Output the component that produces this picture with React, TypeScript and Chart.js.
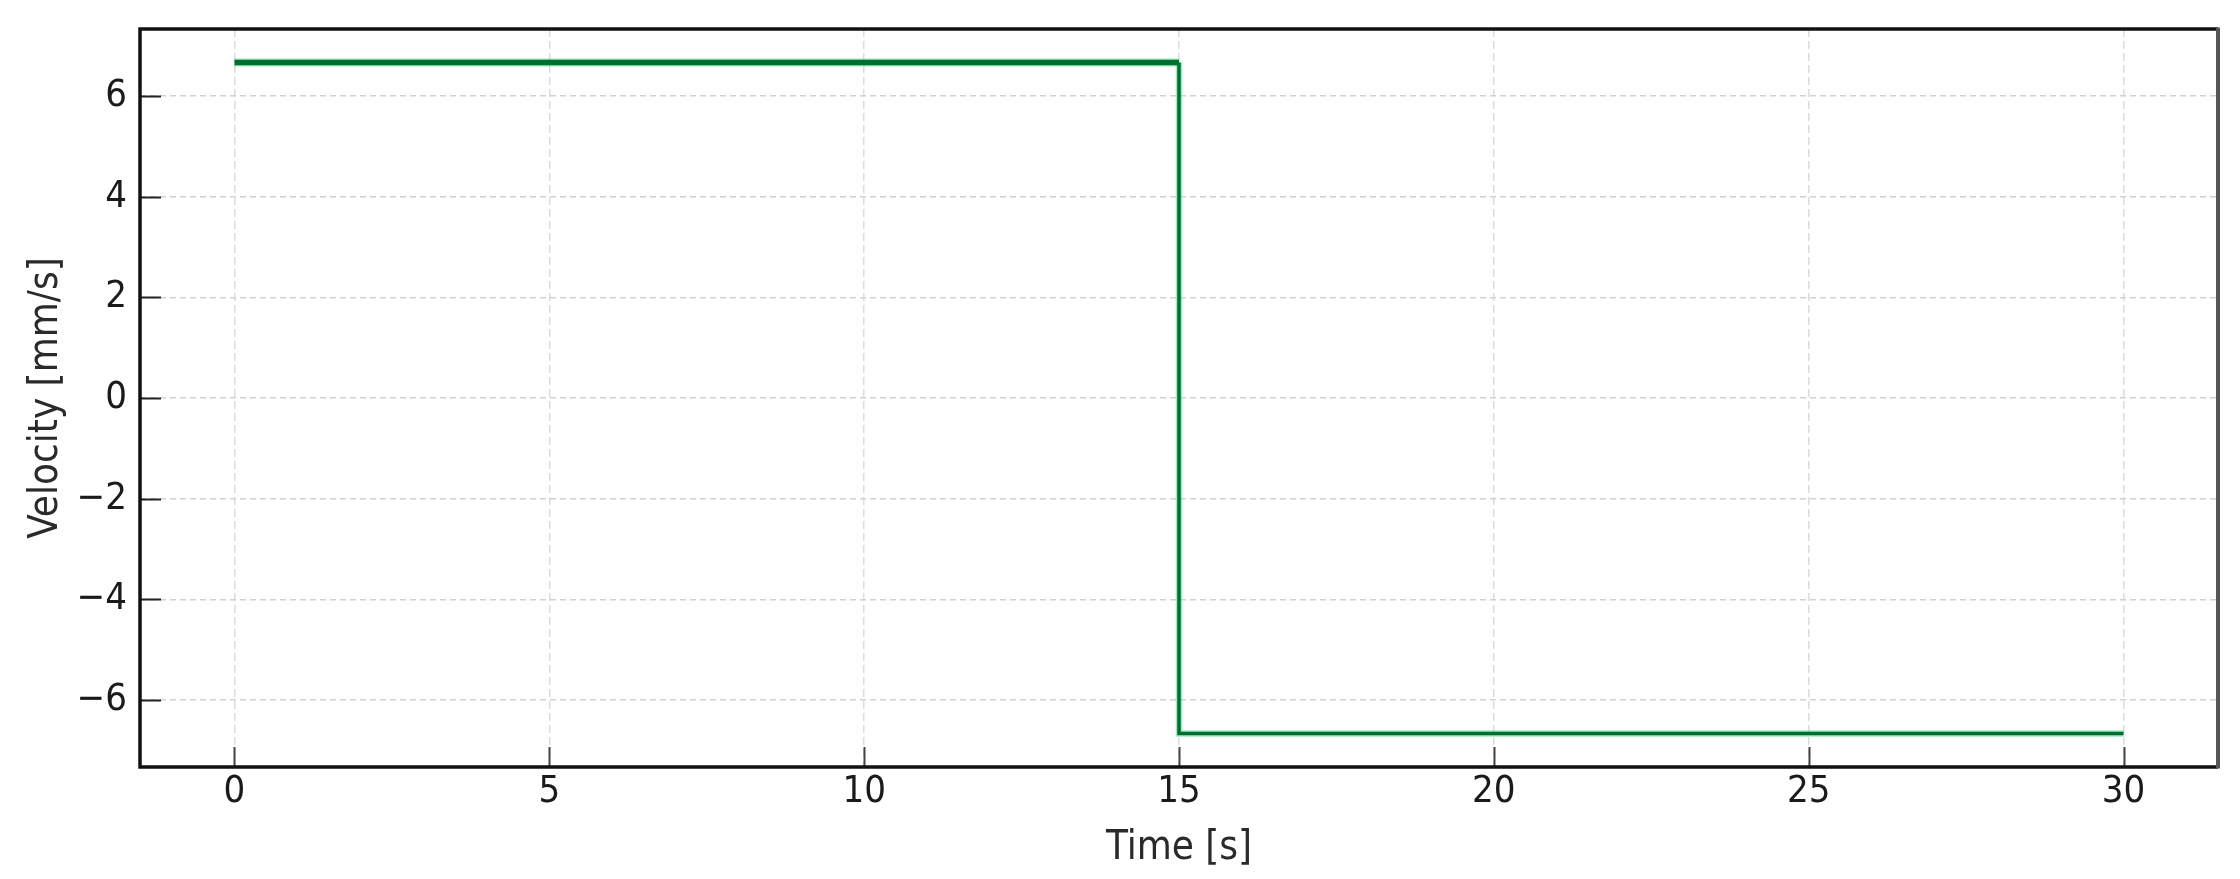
import React, { useEffect, useRef } from "react";
import { Chart, registerables } from "chart.js";

Chart.register(...registerables);

const timeValues = [0, 15, 15, 30];
const velocityValues = [6.667, 6.667, -6.667, -6.667];
const xTickValues = [0, 5, 10, 15, 20, 25, 30];
const yTickValues = [-6, -4, -2, 0, 2, 4, 6];
const xLimits = [-1.5, 31.5];
const yLimits = [-7.333, 7.333];
const xTitle = "Time [s]";
const yTitle = "Velocity [mm/s]";

const FAMILY = '"DejaVu Sans Condensed", "DejaVu Sans", sans-serif';

const fmt = (v: number) => (v < 0 ? "\u2212" + Math.abs(v) : String(v));

const framePlugin = {
  id: "frame",
  afterDatasetsDraw(chart: any) {
    const { ctx, chartArea: a, scales } = chart;
    const xs = scales.x;
    const ys = scales.y;
    ctx.save();
    ctx.lineCap = "butt";
    ctx.strokeStyle = "#222";
    ctx.lineWidth = 2;
    for (const v of yTickValues) {
      const y = Math.round(ys.getPixelForValue(v)) + 0.5;
      ctx.beginPath();
      ctx.moveTo(a.left, y);
      ctx.lineTo(a.left + 21, y);
      ctx.stroke();
    }
    ctx.strokeStyle = "#444";
    for (const v of xTickValues) {
      const x = Math.round(xs.getPixelForValue(v)) + 0.5;
      ctx.beginPath();
      ctx.moveTo(x, a.bottom);
      ctx.lineTo(x, a.bottom - 20);
      ctx.stroke();
    }
    ctx.lineWidth = 3.5;
    ctx.strokeStyle = "#111";
    ctx.beginPath();
    ctx.moveTo(a.right, a.top);
    ctx.lineTo(a.left, a.top);
    ctx.lineTo(a.left, a.bottom);
    ctx.lineTo(a.right, a.bottom);
    ctx.stroke();
    ctx.strokeStyle = "#555";
    ctx.lineWidth = 4;
    ctx.beginPath();
    ctx.moveTo(a.right, a.top - 1.5);
    ctx.lineTo(a.right, a.bottom + 1.5);
    ctx.stroke();
    ctx.restore();
  },
};

export default function App() {
  const ref = useRef<HTMLCanvasElement | null>(null);
  useEffect(() => {
    if (!ref.current) return;
    const points = timeValues.map((t, i) => ({ x: t, y: velocityValues[i] }));
    const chart = new Chart(ref.current, {
      type: "line",
      data: {
        datasets: [
          {
            data: points,
            borderColor: "#006e30",
            borderWidth: 3.5,
            pointRadius: 0,
            tension: 0,
            fill: false,
            segment: {
              borderWidth: (c: any) => (c.p0DataIndex === 0 ? 5.5 : 3.5),
            },
            order: 0,
          },
          {
            data: points,
            borderColor: "rgba(60, 220, 130, 0.5)",
            borderWidth: 6.5,
            pointRadius: 0,
            tension: 0,
            fill: false,
            segment: {
              borderWidth: (c: any) => (c.p0DataIndex === 0 ? 8 : 6.5),
            },
            order: 1,
          },
        ],
      },
      options: {
        animation: false,
        responsive: true,
        maintainAspectRatio: false,
        layout: { padding: { top: 29, right: 22, left: 0, bottom: 0 } },
        plugins: {
          legend: { display: false },
          tooltip: { enabled: false },
        },
        scales: {
          x: {
            type: "linear",
            min: xLimits[0],
            max: xLimits[1],
            afterBuildTicks: (s: any) => {
              s.ticks = xTickValues.map((v) => ({ value: v }));
            },
            afterFit: (s: any) => {
              s.height = 112;
              s.paddingLeft = 0;
              s.paddingRight = 0;
            },
            grid: {
              drawTicks: false,
              color: "#dcdcdc",
              lineWidth: 1.5,
            },
            border: { display: false, dash: [8, 4] },
            ticks: {
              padding: 2,
              color: "#1a1a1a",
              font: { family: FAMILY, size: 38 },
              callback: (v: any) => fmt(Number(v)),
              maxRotation: 0,
            },
            title: {
              display: true,
              text: xTitle,
              color: "#2a2a2a",
              font: { family: FAMILY, size: 40 },
              padding: { top: 0, bottom: 6 },
            },
          },
          y: {
            type: "linear",
            min: yLimits[0],
            max: yLimits[1],
            afterBuildTicks: (s: any) => {
              s.ticks = yTickValues.map((v) => ({ value: v }));
            },
            afterFit: (s: any) => {
              s.width = 140;
              s.paddingTop = 0;
              s.paddingBottom = 0;
            },
            grid: {
              drawTicks: false,
              color: "#d2d2d2",
              lineWidth: 1.5,
            },
            border: { display: false, dash: [6, 4] },
            ticks: {
              padding: 13,
              color: "#1a1a1a",
              font: { family: FAMILY, size: 38 },
              callback: (v: any) => fmt(Number(v)),
            },
            title: {
              display: true,
              text: yTitle,
              color: "#2a2a2a",
              font: { family: FAMILY, size: 40 },
              padding: { top: 23, bottom: 0 },
            },
          },
        },
      },
      plugins: [framePlugin],
    } as any);
    return () => chart.destroy();
  }, []);
  return (
    <div
      style={{
        position: "absolute",
        left: 0,
        top: 0,
        width: 2240,
        height: 879,
        background: "#fff",
      }}
    >
      <canvas ref={ref} />
    </div>
  );
}
